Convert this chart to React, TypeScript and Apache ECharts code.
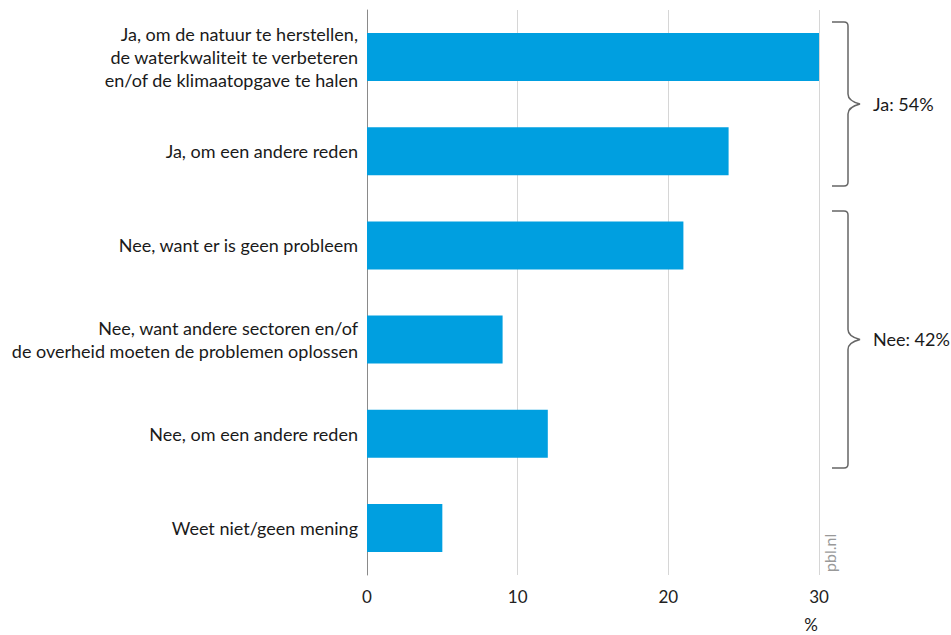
import React, { useEffect, useRef } from "react";
import * as echarts from "echarts";

const categories = [
  "Ja, om de natuur te herstellen,\nde waterkwaliteit te verbeteren\nen/of de klimaatopgave te halen",
  "Ja, om een andere reden",
  "Nee, want er is geen probleem",
  "Nee, want andere sectoren en/of\nde overheid moeten de problemen oplossen",
  "Nee, om een andere reden",
  "Weet niet/geen mening",
];
const values = [30, 24, 21, 9, 12, 5];
const xTicks = { min: 0, max: 30, interval: 10 };
const groupLabels = ["Ja: 54%", "Nee: 42%"];
const unitLabel = "%";
const sourceLabel = "pbl.nl";

const FONT = "Lato, 'Open Sans', sans-serif";

function braceD(h: number): string {
  const m = h / 2;
  return `M0,0 L12,0 Q16,0 16,4 L16,${m - 10} Q16,${m - 3} 28,${m} Q16,${m + 3} 16,${m + 10} L16,${h - 4} Q16,${h} 12,${h} L0,${h}`;
}

export default function App() {
  const ref = useRef<HTMLDivElement>(null);
  useEffect(() => {
    document.body.style.margin = "0";
    if (!ref.current) return;
    echarts.graphic.registerShape("braceJa", echarts.graphic.extendPath(braceD(164), {}));
    echarts.graphic.registerShape("braceNee", echarts.graphic.extendPath(braceD(257), {}));
    const chart = echarts.init(ref.current, null, { renderer: "svg" });
    chart.setOption({
      animation: false,
      backgroundColor: "#ffffff",
      grid: { left: 367, right: 132, top: 10, bottom: 60, containLabel: false },
      xAxis: {
        type: "value",
        min: xTicks.min,
        max: xTicks.max,
        interval: xTicks.interval,
        axisLine: { show: false },
        axisTick: { show: false },
        splitLine: { show: true, lineStyle: { color: "#d6d6d6", width: 1 } },
        axisLabel: { color: "#222", fontSize: 17, fontFamily: FONT, margin: 13 },
      },
      yAxis: {
        type: "category",
        inverse: true,
        data: categories,
        axisLine: { show: true, lineStyle: { color: "#8a8a8a", width: 1 } },
        axisTick: { show: false },
        axisLabel: {
          color: "#1a1a1a",
          fontSize: 18,
          fontFamily: FONT,
          margin: 9,
          align: "right",
          lineHeight: 23,
        },
      },
      series: [
        {
          type: "bar",
          data: values,
          barWidth: 48,
          itemStyle: { color: "#009fe0" },
        },
      ],
      graphic: [
        {
          type: "braceJa",
          x: 832,
          y: 22,
          style: { fill: "none", stroke: "#666", lineWidth: 1.5 },
        },
        {
          type: "braceNee",
          x: 832,
          y: 211,
          style: { fill: "none", stroke: "#666", lineWidth: 1.5 },
        },
        {
          type: "text",
          x: 873,
          y: 104,
          style: { text: groupLabels[0], fill: "#1a1a1a", font: `18px ${FONT}`, textVerticalAlign: "middle" },
        },
        {
          type: "text",
          x: 873,
          y: 339,
          style: { text: groupLabels[1], fill: "#1a1a1a", font: `18px ${FONT}`, textVerticalAlign: "middle" },
        },
        {
          type: "text",
          x: 811,
          y: 624,
          style: { text: unitLabel, fill: "#1a1a1a", font: `17px ${FONT}`, textAlign: "center", textVerticalAlign: "middle" },
        },
        {
          type: "text",
          x: 829,
          y: 572,
          rotation: Math.PI / 2,
          style: { text: sourceLabel, fill: "#999", font: `16px ${FONT}`, textAlign: "left", textVerticalAlign: "middle" },
        },
      ],
    });
    return () => chart.dispose();
  }, []);
  return <div ref={ref} style={{ width: 951, height: 635 }} />;
}
